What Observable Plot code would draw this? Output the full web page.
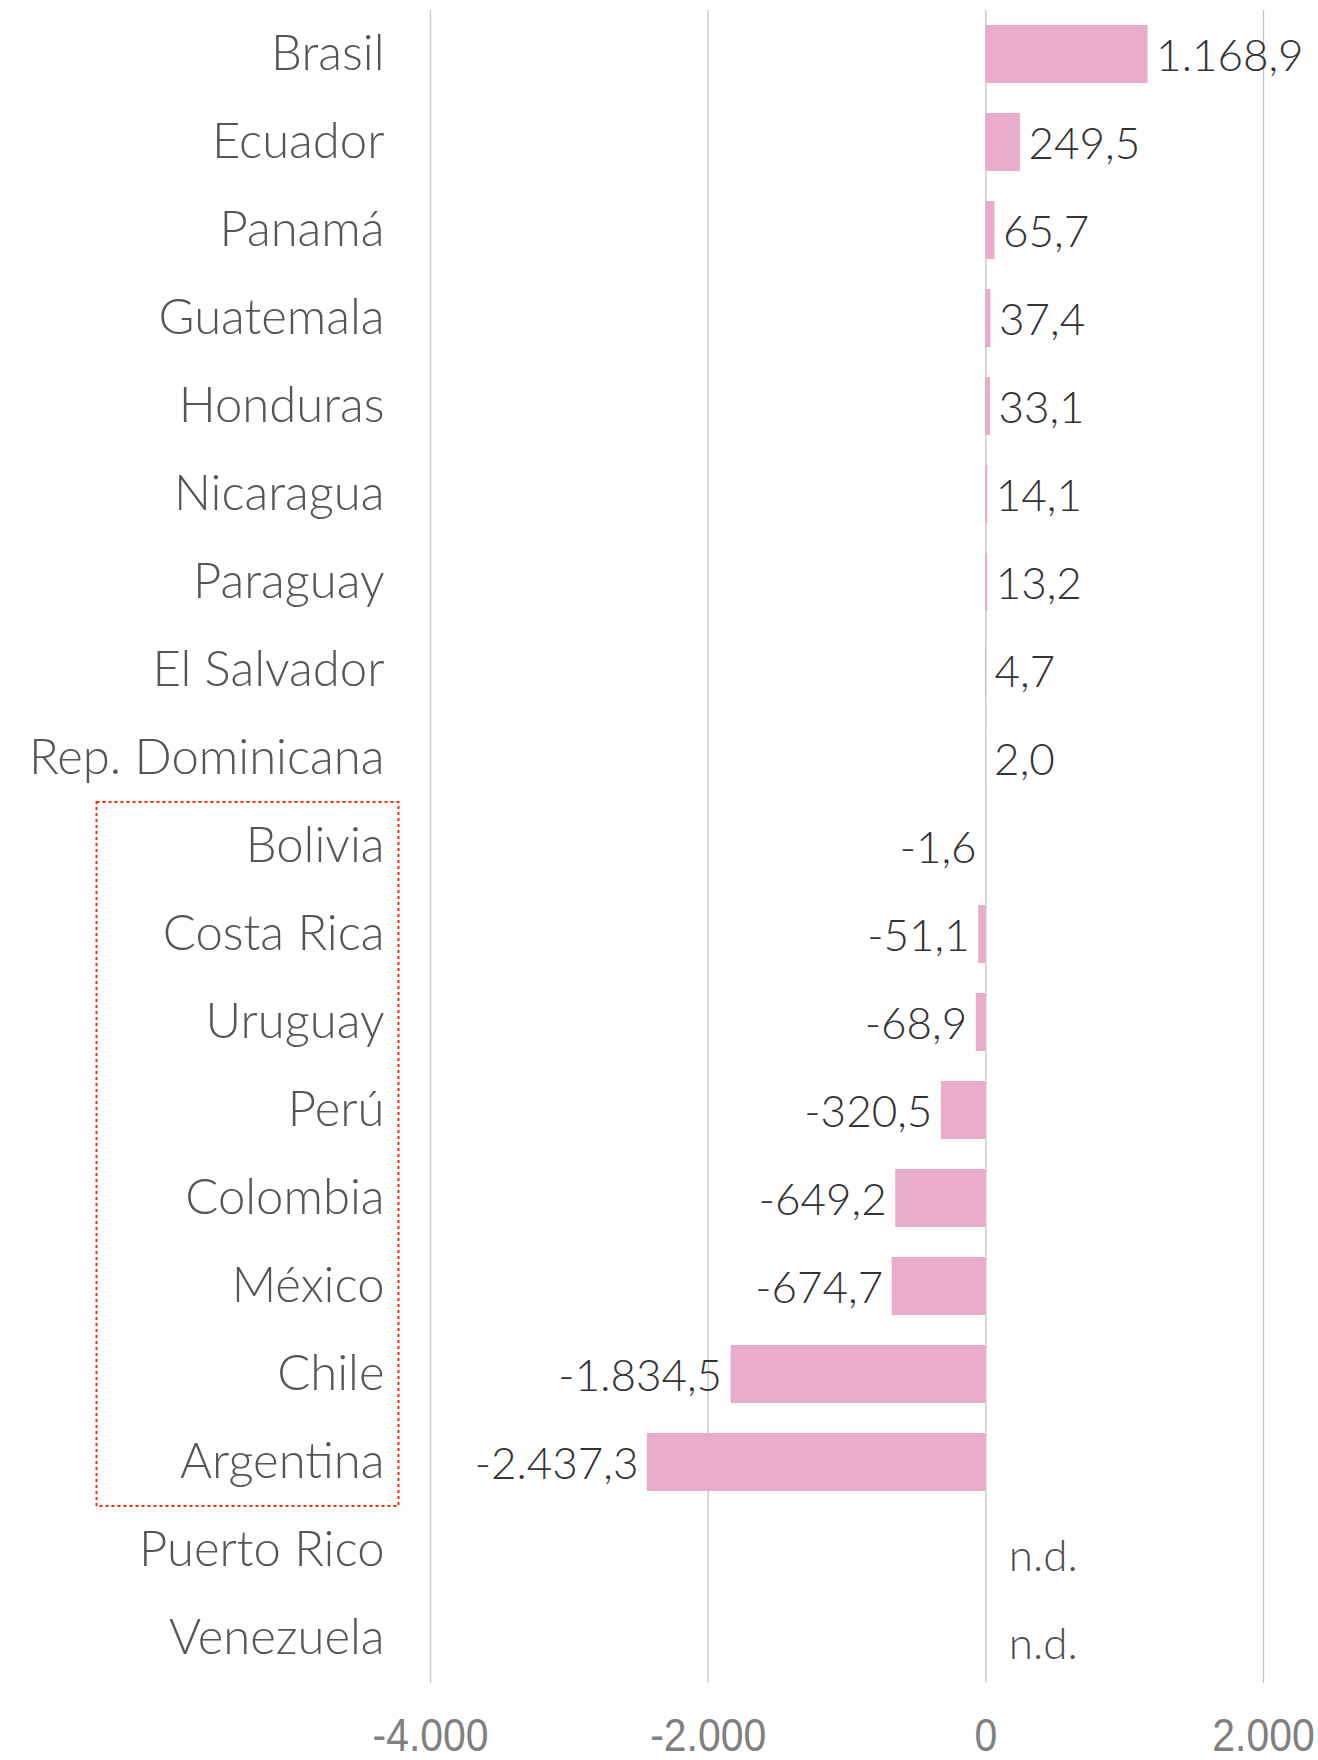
<!DOCTYPE html>
<html><head><meta charset="utf-8">
<script src="https://cdn.jsdelivr.net/npm/d3@7"></script>
<script src="https://cdn.jsdelivr.net/npm/@observablehq/plot@0.6"></script>
<style>body{margin:0;background:#fff}</style>
</head><body><div id="chart"></div>
<script>
const countries = ["Brasil","Ecuador","Panamá","Guatemala","Honduras","Nicaragua","Paraguay","El Salvador","Rep. Dominicana","Bolivia","Costa Rica","Uruguay","Perú","Colombia","México","Chile","Argentina","Puerto Rico","Venezuela"];
const values = [1168.9, 249.5, 65.7, 37.4, 33.1, 14.1, 13.2, 4.7, 2.0, -1.6, -51.1, -68.9, -320.5, -649.2, -674.7, -1834.5, -2437.3, null, null];
const boxed = ["Bolivia","Costa Rica","Uruguay","Perú","Colombia","México","Chile","Argentina"];
const xTicks = [-4000, -2000, 0, 2000];
const missingLabel = "n.d.";

const locale = d3.formatLocale({decimal: ",", thousands: ".", grouping: [3], currency: ["", ""], minus: "-"});
const fmt = locale.format(",.1f");
const fmtTick = locale.format(",d");

const data = countries.map((c, i) => ({country: c, value: values[i]}));
const pos = data.filter(d => d.value != null && d.value >= 0);
const neg = data.filter(d => d.value != null && d.value < 0);
const valid = data.filter(d => d.value != null);
const missing = data.filter(d => d.value == null).map(d => ({country: d.country, value: 0}));

const labelFont = "Lato, 'Open Sans', sans-serif";
const tickFont = "'Liberation Sans', Arial, sans-serif";

const plot = Plot.plot({
  width: 1318, height: 1760,
  marginTop: 10, marginBottom: 77, marginLeft: 430, marginRight: 55,
  x: {domain: [-4000, 2000]},
  y: {domain: countries, paddingInner: 0.34, paddingOuter: 0.17},
  style: {fontFamily: labelFont, background: "#fff"},
  marks: [
    Plot.ruleX(xTicks, {stroke: "#c4c4c4", strokeWidth: 1.3}),
    Plot.barX(valid, {x: "value", y: "country", fill: "#e8a9c8", fillOpacity: 0.95}),
    Plot.text(pos, {x: "value", y: "country", text: d => fmt(d.value), textAnchor: "start", dx: 8, dy: 2, fontSize: 44, fontWeight: 300, fill: "#333333", fontFamily: labelFont}),
    Plot.text(neg, {x: "value", y: "country", text: d => fmt(d.value), textAnchor: "end", dx: -9, dy: 2, fontSize: 44, fontWeight: 300, fill: "#333333", fontFamily: labelFont}),
    Plot.text(missing, {x: "value", y: "country", text: () => missingLabel, textAnchor: "start", dx: 23, dy: 6, fontSize: 44, fontWeight: 300, fill: "#4f4f4f", fontFamily: labelFont}),
    Plot.axisY({tickSize: 0, tickPadding: 46, fontSize: 49, color: "#555555", label: null, fontFamily: labelFont, fontWeight: 300}),
    Plot.axisX({ticks: xTicks, tickFormat: fmtTick, tickSize: 0, tickPadding: 34, fontSize: 47, color: "#808080", label: null, fontFamily: tickFont})
  ]
});

document.getElementById("chart").appendChild(plot);

// narrow the x tick labels horizontally (condensed look of the reference)
d3.select(plot).selectAll('g[aria-label="x-axis tick label"] text').each(function() {
  const t = this.getAttribute("transform") || "";
  this.setAttribute("transform", t + " scale(0.87,1)");
});

// dotted frame around the boxed group, positioned from the y band scale
const yScale = plot.scale("y");
const bw = yScale.bandwidth;
const stepPx = yScale.apply(countries[1]) - yScale.apply(countries[0]);
const gapPx = (stepPx - bw) / 2;
const boxTop = yScale.apply(boxed[0]) - gapPx;
const boxBottom = yScale.apply(boxed[boxed.length - 1]) + bw + gapPx;
d3.select(plot).append("rect")
  .attr("x", 96.5).attr("y", boxTop)
  .attr("width", 302).attr("height", boxBottom - boxTop)
  .attr("fill", "none").attr("stroke", "#ff2a00")
  .attr("stroke-width", 2).attr("stroke-dasharray", "3,3");
</script>
</body></html>
